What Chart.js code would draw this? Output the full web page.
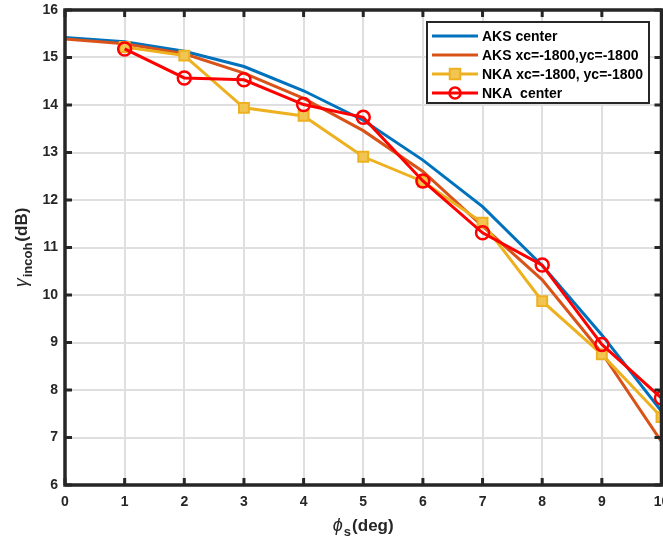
<!DOCTYPE html>
<html>
<head>
<meta charset="utf-8">
<script src="https://cdn.jsdelivr.net/npm/chart.js@4.4.1/dist/chart.umd.min.js"></script>
<style>
  body { margin: 0; background: #fff; }
  canvas { display: block; }
</style>
</head>
<body>
<canvas id="gain" width="663" height="541"></canvas>
<script>
// steering angle (deg)
const phiDeg = [0, 1, 2, 3, 4, 5, 6, 7, 8, 9, 10];
// incoherent gain (dB) per method
const aksCenter = [15.42, 15.33, 15.13, 14.81, 14.30, 13.68, 12.84, 11.86, 10.62, 9.16, 7.55];
const aksOffset = [15.39, 15.29, 15.08, 14.67, 14.14, 13.46, 12.60, 11.45, 10.32, 8.78, 6.91];
const nkaOffset = [null, 15.22, 15.04, 13.94, 13.77, 12.91, 12.39, 11.52, 9.87, 8.75, 7.43];
const nkaCenter = [null, 15.18, 14.57, 14.53, 14.01, 13.74, 12.40, 11.31, 10.63, 8.96, 7.83];
const seriesNames = ['AKS center', 'AKS xc=-1800,yc=-1800', 'NKA xc=-1800, yc=-1800', 'NKA  center'];
const yTicks = [6, 7, 8, 9, 10, 11, 12, 13, 14, 15, 16];

const FONT = '"Liberation Sans", Arial, Helvetica, sans-serif';
const INK = '#262626';

function points(ys) {
    var out = [];
    for (var i = 0; i < phiDeg.length; i++) {
        if (ys[i] !== null) out.push({x: phiDeg[i], y: ys[i]});
    }
    return out;
}

// box with inward ticks, axis titles and legend, matlab style
const axesBox = {
    id: 'axesBox',
    afterDraw(chart) {
        const ctx = chart.ctx, a = chart.chartArea;
        const sx = chart.scales.x, sy = chart.scales.y;
        ctx.save();
        ctx.strokeStyle = INK;
        ctx.lineWidth = 3.5;
        ctx.strokeRect(a.left, a.top, a.right - a.left, a.bottom - a.top);

        ctx.lineWidth = 3;
        ctx.beginPath();
        sx.ticks.forEach(function(t) {
            var px = sx.getPixelForValue(t.value);
            ctx.moveTo(px, a.bottom); ctx.lineTo(px, a.bottom - 7);
            ctx.moveTo(px, a.top); ctx.lineTo(px, a.top + 7);
        });
        sy.ticks.forEach(function(t) {
            var py = sy.getPixelForValue(t.value);
            ctx.moveTo(a.left, py); ctx.lineTo(a.left + 7, py);
            ctx.moveTo(a.right, py); ctx.lineTo(a.right - 7, py);
        });
        ctx.stroke();

        // x title: phi_s(deg)
        ctx.fillStyle = INK;
        ctx.textBaseline = 'alphabetic';
        ctx.textAlign = 'left';
        var main = 'bold 17px ' + FONT, sub = 'bold 13px ' + FONT, greek = 'italic 18px ' + FONT;
        ctx.font = greek; var w1 = ctx.measureText('\u03d5').width;
        ctx.font = sub; var w2 = ctx.measureText('s').width;
        ctx.font = main; var w3 = ctx.measureText('(deg)').width;
        var cx = (a.left + a.right) / 2, base = 531;
        var x0 = cx - (w1 + w2 + w3 + 2) / 2;
        ctx.font = greek; ctx.fillText('\u03d5', x0, base);
        ctx.font = sub; ctx.fillText('s', x0 + w1 + 1, base + 5);
        ctx.font = main; ctx.fillText('(deg)', x0 + w1 + w2 + 2, base);

        // y title: gamma_incoh(dB), rotated
        ctx.save();
        ctx.translate(27, (a.top + a.bottom) / 2);
        ctx.rotate(-Math.PI / 2);
        ctx.font = greek; var g1 = ctx.measureText('\u03b3').width;
        ctx.font = sub; var g2 = ctx.measureText('incoh').width;
        ctx.font = main; var g3 = ctx.measureText('(dB)').width;
        var u0 = -(g1 + g2 + g3 + 2) / 2;
        ctx.font = greek; ctx.fillText('\u03b3', u0, 0);
        ctx.font = sub; ctx.fillText('incoh', u0 + g1 + 1, 5);
        ctx.font = main; ctx.fillText('(dB)', u0 + g1 + g2 + 2, 0);
        ctx.restore();

        // legend
        var lx = 427, ly = 22, lw = 222, lh = 81;
        ctx.fillStyle = '#fff';
        ctx.fillRect(lx, ly, lw, lh);
        ctx.lineWidth = 2;
        ctx.strokeStyle = INK;
        ctx.strokeRect(lx, ly, lw, lh);
        var rows = [36, 55, 74, 93];
        chart.data.datasets.forEach(function(ds, i) {
            var ry = rows[i];
            ctx.strokeStyle = ds.borderColor;
            ctx.lineWidth = ds.borderWidth;
            ctx.beginPath(); ctx.moveTo(432, ry); ctx.lineTo(478, ry); ctx.stroke();
            if (ds.pointRadius > 0) {
                ctx.lineWidth = ds.pointBorderWidth;
                ctx.strokeStyle = ds.pointBorderColor;
                if (ds.pointStyle === 'rect') {
                    var r = ds.pointRadius * 0.75;
                    ctx.fillStyle = ds.pointBackgroundColor;
                    ctx.fillRect(455 - r, ry - r, 2 * r, 2 * r);
                    ctx.strokeRect(455 - r, ry - r, 2 * r, 2 * r);
                } else {
                    ctx.beginPath(); ctx.arc(455, ry, ds.pointRadius * 0.85, 0, 2 * Math.PI); ctx.stroke();
                }
            }
            ctx.fillStyle = '#000';
            ctx.font = 'bold 14px ' + FONT;
            ctx.textBaseline = 'middle';
            ctx.fillText(seriesNames[i], 482, ry + 1);
        });
        ctx.restore();
    }
};

var chart = new Chart(document.getElementById('gain').getContext('2d'), {
    type: 'line',
    data: {
        datasets: [
            {
                label: seriesNames[0], data: points(aksCenter),
                borderColor: '#0072BD', borderWidth: 3, pointRadius: 0, order: 4
            },
            {
                label: seriesNames[1], data: points(aksOffset),
                borderColor: '#D95319', borderWidth: 3, pointRadius: 0, order: 3
            },
            {
                label: seriesNames[2], data: points(nkaOffset),
                borderColor: '#EDB120', borderWidth: 3, order: 2,
                pointStyle: 'rect', pointRadius: 7, pointBorderWidth: 2,
                pointBorderColor: '#EDB120', pointBackgroundColor: '#F2C452'
            },
            {
                label: seriesNames[3], data: points(nkaCenter),
                borderColor: '#FF0000', borderWidth: 3, order: 1,
                pointStyle: 'circle', pointRadius: 6.5, pointBorderWidth: 2.5,
                pointBorderColor: '#FF0000', pointBackgroundColor: 'rgba(0,0,0,0)'
            }
        ]
    },
    options: {
        responsive: false,
        animation: false,
        devicePixelRatio: 1,
        layout: { autoPadding: false, padding: { top: 10, right: 1.5, left: 0, bottom: 0 } },
        plugins: { legend: { display: false }, tooltip: { enabled: false } },
        elements: { line: { tension: 0 } },
        scales: {
            x: {
                type: 'linear', min: 0, max: 10,
                ticks: { stepSize: 1, color: INK, padding: 9, font: { family: FONT, size: 14, weight: 'bold' } },
                grid: { color: '#dfdfdf', lineWidth: 2, drawTicks: false },
                border: { display: false },
                afterFit: function(s) { s.height = 56; s.paddingLeft = 0; s.paddingRight = 0; }
            },
            y: {
                type: 'linear', min: yTicks[0], max: yTicks[yTicks.length - 1],
                ticks: { stepSize: 1, color: INK, padding: 7, font: { family: FONT, size: 14, weight: 'bold' } },
                grid: { color: '#dfdfdf', lineWidth: 2, drawTicks: false },
                border: { display: false },
                afterFit: function(s) { s.width = 65; s.paddingTop = 0; s.paddingBottom = 0; }
            }
        }
    },
    plugins: [axesBox]
});
</script>
</body>
</html>
